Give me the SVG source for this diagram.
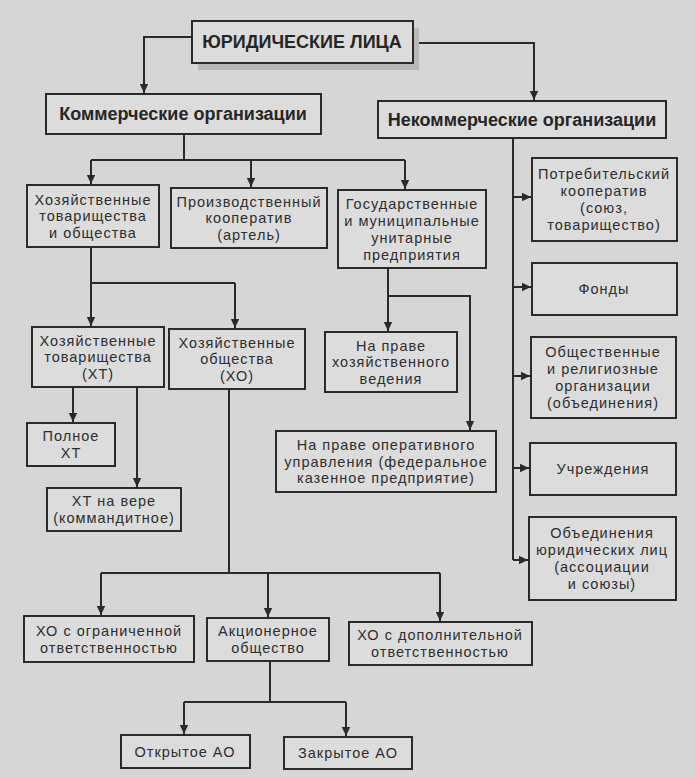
<svg xmlns="http://www.w3.org/2000/svg" width="695" height="778" viewBox="0 0 695 778">
<style>
.bx{fill:#dcdcdc;stroke:#2a2a2a;stroke-width:2}
.t{font-family:"Liberation Sans",Arial,sans-serif;font-size:14.5px;letter-spacing:1px;fill:#2e2e2e;text-anchor:middle}
.b{font-family:"Liberation Sans",Arial,sans-serif;font-weight:bold;font-size:18px;fill:#262626;text-anchor:middle}
.c{fill:none;stroke:#2a2a2a;stroke-width:2;marker-end:url(#ah)}
.l{fill:none;stroke:#2a2a2a;stroke-width:2}
</style>
<defs>
<marker id="ah" markerUnits="userSpaceOnUse" markerWidth="10" markerHeight="10" refX="9" refY="5" orient="auto">
<path d="M0,0.8 L9,5 L0,9.2 Z" fill="#2a2a2a"/>
</marker>
</defs>
<rect x="0" y="0" width="695" height="778" fill="#d6d6d6"/>
<g id="connectors">
<path class="c" d="M192,37 H144 V93"/>
<path class="c" d="M413,43 H534 V100"/>
<path class="l" d="M184,134 V160"/>
<path class="l" d="M91,160 H405"/>
<path class="c" d="M91,160 V184"/>
<path class="c" d="M251,160 V187"/>
<path class="c" d="M405,160 V189"/>
<path class="l" d="M91,247 V283 H235"/>
<path class="c" d="M91,283 V326"/>
<path class="c" d="M235,283 V328"/>
<path class="c" d="M73,387 V422"/>
<path class="c" d="M137,387 V487"/>
<path class="l" d="M229,389 V573"/>
<path class="l" d="M101,573 H440"/>
<path class="c" d="M101,573 V615"/>
<path class="c" d="M268,573 V617"/>
<path class="c" d="M440,573 V621"/>
<path class="l" d="M270,661 V702"/>
<path class="l" d="M184,702 H346"/>
<path class="c" d="M184,702 V734"/>
<path class="c" d="M346,702 V736"/>
<path class="c" d="M388,268 V331"/>
<path class="c" d="M388,296 H470 V430"/>
<path class="l" d="M513,138 V560"/>
<path class="c" d="M513,197 H531"/>
<path class="c" d="M513,287 H531"/>
<path class="c" d="M513,376 H530"/>
<path class="c" d="M513,468 H529"/>
<path class="c" d="M513,560 H528"/>
</g>
<g id="n-top">
<rect x="198" y="28" width="221" height="42" fill="#b8b8b8"/>
<rect class="bx" x="192" y="21" width="221" height="42"/>
<text class="b" x="302" y="48">ЮРИДИЧЕСКИЕ ЛИЦА</text>
</g>
<g id="n-comm">
<rect class="bx" x="46" y="94" width="275" height="40"/>
<text class="b" x="183" y="120">Коммерческие организации</text>
</g>
<g id="n-noncomm">
<rect class="bx" x="378" y="101" width="288" height="37"/>
<text class="b" x="522" y="125.5">Некоммерческие организации</text>
</g>
<g id="n-htob">
<rect class="bx" x="27" y="185" width="132" height="62"/>
<text class="t" x="93" y="204.5">Хозяйственные</text>
<text class="t" x="93" y="221">товарищества</text>
<text class="t" x="93" y="237.5">и общества</text>
</g>
<g id="n-pk">
<rect class="bx" x="171" y="188" width="156" height="60"/>
<text class="t" x="249" y="206.5">Производственный</text>
<text class="t" x="249" y="223">кооператив</text>
<text class="t" x="249" y="239.5">(артель)</text>
</g>
<g id="n-gos">
<rect class="bx" x="338" y="190" width="148" height="78"/>
<text class="t" x="412" y="208.5">Государственные</text>
<text class="t" x="412" y="225.5">и муниципальные</text>
<text class="t" x="412" y="242.5">унитарные</text>
<text class="t" x="412" y="259.5">предприятия</text>
</g>
<g id="n-ht">
<rect class="bx" x="32" y="327" width="132" height="60"/>
<text class="t" x="98" y="345.5">Хозяйственные</text>
<text class="t" x="98" y="362">товарищества</text>
<text class="t" x="98" y="378.5">(ХТ)</text>
</g>
<g id="n-ho">
<rect class="bx" x="169" y="329" width="136" height="60"/>
<text class="t" x="237" y="347.5">Хозяйственные</text>
<text class="t" x="237" y="364">общества</text>
<text class="t" x="237" y="380.5">(ХО)</text>
</g>
<g id="n-poln">
<rect class="bx" x="27" y="423" width="88" height="43"/>
<text class="t" x="71" y="441">Полное</text>
<text class="t" x="71" y="458">ХТ</text>
</g>
<g id="n-vere">
<rect class="bx" x="47" y="488" width="134" height="43"/>
<text class="t" x="114" y="506">ХТ на вере</text>
<text class="t" x="114" y="523">(коммандитное)</text>
</g>
<g id="n-hozved">
<rect class="bx" x="325" y="332" width="132" height="60"/>
<text class="t" x="391" y="350.5">На праве</text>
<text class="t" x="391" y="367">хозяйственного</text>
<text class="t" x="391" y="383.5">ведения</text>
</g>
<g id="n-oper">
<rect class="bx" x="276" y="431" width="220" height="61"/>
<text class="t" x="386" y="450">На праве оперативного</text>
<text class="t" x="386" y="466.5">управления (федеральное</text>
<text class="t" x="386" y="483">казенное предприятие)</text>
</g>
<g id="n-potreb">
<rect class="bx" x="532" y="158" width="145" height="83"/>
<text class="t" x="604" y="179">Потребительский</text>
<text class="t" x="604" y="196">кооператив</text>
<text class="t" x="604" y="213">(союз,</text>
<text class="t" x="604" y="230">товарищество)</text>
</g>
<g id="n-fondy">
<rect class="bx" x="532" y="263" width="145" height="52"/>
<text class="t" x="604" y="294">Фонды</text>
</g>
<g id="n-obsh">
<rect class="bx" x="531" y="337" width="145" height="81"/>
<text class="t" x="603" y="357">Общественные</text>
<text class="t" x="603" y="374">и религиозные</text>
<text class="t" x="603" y="391">организации</text>
<text class="t" x="603" y="408">(объединения)</text>
</g>
<g id="n-uchr">
<rect class="bx" x="530" y="443" width="146" height="52"/>
<text class="t" x="603" y="474">Учреждения</text>
</g>
<g id="n-obyed">
<rect class="bx" x="529" y="517" width="147" height="83"/>
<text class="t" x="602" y="538">Объединения</text>
<text class="t" x="602" y="555">юридических лиц</text>
<text class="t" x="602" y="572">(ассоциации</text>
<text class="t" x="602" y="589">и союзы)</text>
</g>
<g id="n-ooo">
<rect class="bx" x="24" y="616" width="170" height="46"/>
<text class="t" x="109" y="635.5">ХО с ограниченной</text>
<text class="t" x="109" y="652.5">ответственностью</text>
</g>
<g id="n-ao">
<rect class="bx" x="207" y="618" width="122" height="43"/>
<text class="t" x="268" y="636">Акционерное</text>
<text class="t" x="268" y="653">общество</text>
</g>
<g id="n-odo">
<rect class="bx" x="349" y="622" width="183" height="43"/>
<text class="t" x="440" y="640">ХО с дополнительной</text>
<text class="t" x="440" y="657">ответственностью</text>
</g>
<g id="n-oao">
<rect class="bx" x="121" y="735" width="129" height="33"/>
<text class="t" x="185" y="756.5">Открытое АО</text>
</g>
<g id="n-zao">
<rect class="bx" x="284" y="737" width="128" height="32"/>
<text class="t" x="348" y="758">Закрытое АО</text>
</g>
</svg>
